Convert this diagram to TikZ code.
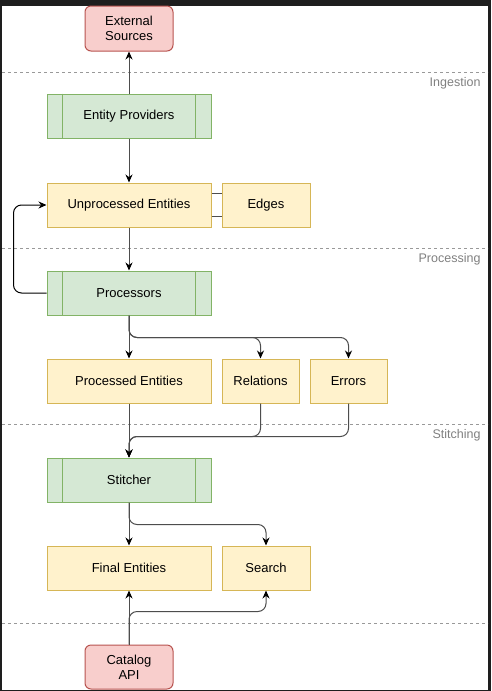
\documentclass[tikz,border=0pt]{standalone}
\usepackage{fontspec}
\setmainfont{Liberation Sans}
\usetikzlibrary{arrows.meta}
\definecolor{redfill}{HTML}{F8CECC}
\definecolor{reddraw}{HTML}{B85450}
\definecolor{greenfill}{HTML}{D5E8D4}
\definecolor{greendraw}{HTML}{82B366}
\definecolor{yellowfill}{HTML}{FFF2CC}
\definecolor{yellowdraw}{HTML}{D6B656}
\definecolor{wire}{HTML}{4D4D4D}
\definecolor{frame}{HTML}{1E1E1E}
\begin{document}
\begin{tikzpicture}[x=1pt,y=-1pt,
   font=\fontsize{13}{15}\selectfont,
   box/.style={draw,line width=1pt,inner sep=0pt,minimum height=44pt,align=center},
   ext/.style={box,fill=redfill,draw=reddraw,rounded corners=6pt,minimum width=88pt,minimum height=45pt},
   proc/.style={box,fill=greenfill,draw=greendraw,minimum width=164pt},
   store/.style={box,fill=yellowfill,draw=yellowdraw,minimum width=#1},
   store/.default=164pt,
   flow/.style={draw=wire,line width=1pt,-{Stealth[length=8pt,width=7pt,color=black]}},
   lane/.style={draw=black!40,line width=0.8pt,dash pattern=on 3pt off 3pt},
   lanelabel/.style={anchor=east,text=black!50,font=\fontsize{12.5}{14}\selectfont}]
   \fill[frame] (0,0) rectangle (491,691);
   \fill[white] (2,6) rectangle (488,690);
   \useasboundingbox (0,0) rectangle (491,691);
   % lanes
   \draw[lane] (2,72) -- (488,72);
   \draw[lane] (2,248) -- (488,248);
   \draw[lane] (2,424) -- (488,424);
   \draw[lane] (2,623) -- (488,623);
   \node[lanelabel] (ingestion) at (484,83) {Ingestion};
   \node[lanelabel] (processing) at (484,259) {Processing};
   \node[lanelabel] (stitching) at (484,435) {Stitching};
   % nodes
   \node[ext] (sources) at (129,28.5) {External\\Sources};
   \node[proc] (providers) at (129,116) {Entity Providers};
   \node[store] (unprocessed) at (129,205) {Unprocessed Entities};
   \node[store=88pt] (edges) at (266,205) {Edges};
   \node[proc] (processors) at (129,293) {Processors};
   \node[store] (processed) at (129,381) {Processed Entities};
   \node[store=77pt] (relations) at (260.5,381) {Relations};
   \node[store=77pt] (errors) at (348.5,381) {Errors};
   \node[proc] (stitcher) at (129,480) {Stitcher};
   \node[store] (final) at (129,568) {Final Entities};
   \node[store=88pt] (search) at (266,568) {Search};
   \node[ext,minimum height=44pt] (api) at (129,667) {Catalog\\API};
   \foreach \p in {providers,processors,stitcher}{
     \draw[greendraw,line width=1pt] ([xshift=16pt]\p.north west) -- ([xshift=16pt]\p.south west);
     \draw[greendraw,line width=1pt] ([xshift=-16pt]\p.north east) -- ([xshift=-16pt]\p.south east);
   }
   % connectors
   \draw[flow] (providers) -- (sources);
   \draw[flow] (providers) -- (unprocessed);
   \draw[wire,line width=1pt] ([yshift=12pt]unprocessed.east) -- ([yshift=12pt]edges.west);
   \draw[wire,line width=1pt] ([yshift=-11pt]unprocessed.east) -- ([yshift=-11pt]edges.west);
   \draw[flow] (unprocessed) -- (processors);
   \draw[flow,draw=black,rounded corners=8pt] (processors.west) -- ++(-33,0) |- (unprocessed.west);
   \draw[flow] (processors) -- (processed);
   \draw[flow,rounded corners=8pt] (processors.south) -- ++(0,22) -| (relations.north);
   \draw[flow,rounded corners=8pt] (processors.south) -- ++(0,22) -| (errors.north);
   \draw[flow] (processed) -- (stitcher);
   \draw[flow,rounded corners=8pt] (relations.south) -- ++(0,33) -| (stitcher.north);
   \draw[flow,rounded corners=8pt] (errors.south) -- ++(0,33) -| (stitcher.north);
   \draw[flow] (stitcher) -- (final);
   \draw[flow,rounded corners=8pt] (stitcher.south) -- ++(0,22) -| (search.north);
   \draw[flow] (api) -- (final);
   \draw[flow,rounded corners=8pt] (api.north) -- ++(0,-33) -| (search.south);
\end{tikzpicture}
\end{document}
